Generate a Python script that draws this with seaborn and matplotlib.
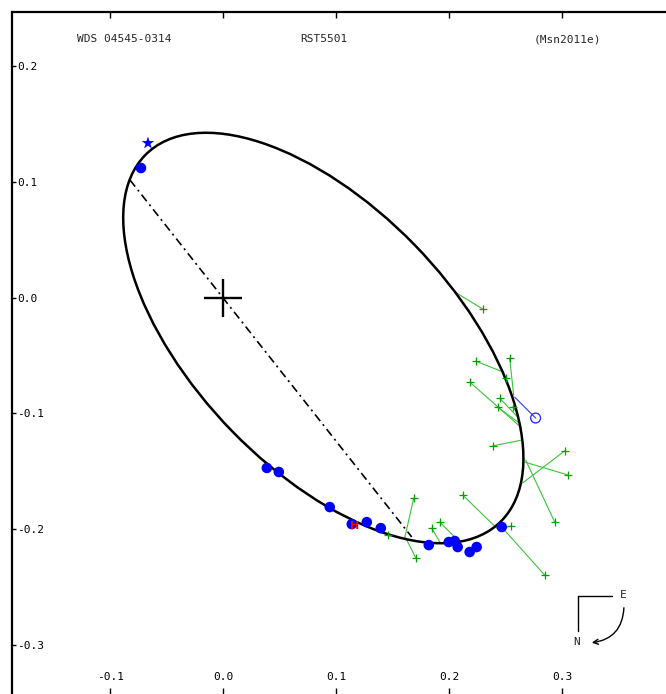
import numpy as np
import matplotlib
matplotlib.use("Agg")
import matplotlib.pyplot as plt
from matplotlib.patches import Ellipse
import seaborn as sns

# ---------------- data ----------------
wds_id = "WDS 04545-0314"
disc_id = "RST5501"
orbit_ref = "(Msn2011e)"

x_ticks = [-0.1, 0.0, 0.1, 0.2, 0.3, 0.4]
x_tick_labels = ["-0.1", "0.0", "0.1", "0.2", "0.3", "0.4"]
y_ticks = [-0.3, -0.2, -0.1, 0.0, 0.1, 0.2]
y_tick_labels = ["-0.3", "-0.2", "-0.1", "0.0", "0.1", "0.2"]

# apparent orbit ellipse
orbit_center = (0.0885, -0.0349)
orbit_semi_major = 0.2232
orbit_semi_minor = 0.1140
orbit_angle_deg = -45.0

# line of nodes
node_x = [-0.0827, 0.1668]
node_y = [0.1015, -0.2067]

# interferometric measures (blue filled dots)
speckle_x = [-0.0730, 0.0385, 0.0491, 0.0942, 0.1137, 0.1270, 0.1394,
             0.1819, 0.1996, 0.2049, 0.2075, 0.2181, 0.2243, 0.2465]
speckle_y = [0.1119, -0.1471, -0.1506, -0.1809, -0.1956, -0.1939, -0.1991,
             -0.2137, -0.2111, -0.2102, -0.2154, -0.2197, -0.2154, -0.1981]

# first measure (blue star)
first_x = [-0.0668]
first_y = [0.1334]

# Hipparcos measure (red H)
hip_x = [0.1160]
hip_y = [-0.1975]

# micrometer measures (green +) and their predicted positions
visual_x = [0.2297, 0.2235, 0.2535, 0.2181, 0.2447, 0.2429, 0.2562, 0.2500,
            0.2385, 0.3022, 0.3049, 0.2934, 0.2119, 0.2544, 0.2845, 0.1686,
            0.1704, 0.1916, 0.1845, 0.1456]
visual_y = [-0.0099, -0.0549, -0.0523, -0.0729, -0.0869, -0.0946, -0.0946, -0.0696,
            -0.1281, -0.1324, -0.1531, -0.1938, -0.1705, -0.1972, -0.2396, -0.1730,
            -0.2248, -0.1938, -0.1990, -0.2050]
visual_pred_x = [0.2066, 0.2482, 0.2571, 0.2642, 0.2615, 0.2633, 0.2606, 0.2518,
                 0.2650, 0.2650, 0.2668, 0.2677, 0.2420, 0.2491, 0.2473, 0.1606,
                 0.1615, 0.2049, 0.1916, 0.1473]
visual_pred_y = [0.0039, -0.0644, -0.0843, -0.1126, -0.1040, -0.1092, -0.0998, -0.0730,
                 -0.1229, -0.1601, -0.1420, -0.1403, -0.1990, -0.1990, -0.1990, -0.2076,
                 -0.2076, -0.2068, -0.2111, -0.2059]

# single-aperture measure (blue open circle) and predicted position
open_x = [0.2765]
open_y = [-0.1040]
open_pred_x = [0.2580]
open_pred_y = [-0.0860]

# ---------------- styling ----------------
sns.set_style("white")
plt.rcParams["font.family"] = ["DejaVu Sans Mono", "DejaVu Sans"]
plt.rcParams["axes.unicode_minus"] = False

W, H = 666, 694
fig = plt.figure(figsize=(W / 100, H / 100), dpi=100)
ax = fig.add_axes([12 / W, 0, 688 / W, 682 / H])
ax.set_xlim(-0.1872, 0.4221)
ax.set_ylim(-0.3423, 0.2466)

for side in ["right", "bottom"]:
    ax.spines[side].set_visible(False)
for side in ["left", "top"]:
    ax.spines[side].set_visible(True)
    ax.spines[side].set_color("black")
    ax.spines[side].set_linewidth(1.6)

ax.set_xticks(x_ticks)
ax.set_xticklabels(x_tick_labels)
ax.set_yticks(y_ticks)
ax.set_yticklabels(y_tick_labels)
ax.tick_params(axis="x", direction="in", top=True, bottom=True, length=4.5,
               width=1, color="black", labelsize=8, pad=-16, labelcolor="black")
ax.tick_params(axis="y", direction="in", left=True, right=False, length=3,
               width=1, color="black", labelsize=8, pad=-4, labelcolor="black")
for lab in ax.get_yticklabels():
    lab.set_horizontalalignment("left")
ax.grid(False)

# residual lines (green) and blue open-circle residual
for xo, yo, xp, yp in zip(visual_x, visual_y, visual_pred_x, visual_pred_y):
    ax.plot([xo, xp], [yo, yp], color="#3cc23c", lw=0.8, zorder=2)
for xo, yo, xp, yp in zip(open_x, open_y, open_pred_x, open_pred_y):
    ax.plot([xo, xp], [yo, yp], color="#3333ff", lw=0.8, zorder=2)

# orbit
ell = Ellipse(orbit_center, 2 * orbit_semi_major, 2 * orbit_semi_minor,
              angle=orbit_angle_deg, fill=False, edgecolor="black", lw=1.8, zorder=3)
ax.add_patch(ell)

# line of nodes
ax.plot(node_x, node_y, color="black", lw=1.2, dashes=[5, 2.5, 1.2, 2.5], zorder=3)

# primary
ax.plot([0.0], [0.0], marker="+", color="black", markersize=27, mew=1.7, zorder=4)

# measures
sns.scatterplot(x=visual_x, y=visual_y, marker="+", color="#00a000", s=40,
                linewidth=0.9, ax=ax, zorder=5, legend=False)
sns.scatterplot(x=speckle_x, y=speckle_y, marker="o", color="#0000ff", s=58,
                edgecolor="none", ax=ax, zorder=5, legend=False)
sns.scatterplot(x=first_x, y=first_y, marker="*", color="#0000ff", s=90,
                edgecolor="none", ax=ax, zorder=5, legend=False)
sns.scatterplot(x=open_x, y=open_y, marker="o", facecolor="none", edgecolor="#3333ff",
                s=50, linewidth=1.0, ax=ax, zorder=5, legend=False)
for hx, hy in zip(hip_x, hip_y):
    ax.text(hx, hy, "H", color="red", fontsize=8, fontweight="bold",
            family="DejaVu Sans", ha="center", va="center", zorder=7)

# header
fig.text(124 / W, 1 - 39 / H, wds_id, fontsize=8, ha="center", va="center")
fig.text(324 / W, 1 - 39 / H, disc_id, fontsize=8, ha="center", va="center")
fig.text(567 / W, 1 - 39 / H, orbit_ref, fontsize=8, ha="center", va="center")

# compass
def fp(px, py):
    return (px / W, 1 - py / H)

fig.add_artist(plt.Line2D([578 / W, 612 / W], [1 - 596 / H, 1 - 596 / H],
                          color="black", lw=1.0, transform=fig.transFigure))
fig.add_artist(plt.Line2D([578 / W, 578 / W], [1 - 596 / H, 1 - 631 / H],
                          color="black", lw=1.0, transform=fig.transFigure))
fig.text(623 / W, 1 - 595 / H, "E", fontsize=8, ha="center", va="center")
fig.text(577 / W, 1 - 642 / H, "N", fontsize=8, ha="center", va="center")
ax.annotate("", xy=fp(589, 643), xytext=fp(624, 605),
            xycoords="figure fraction", textcoords="figure fraction",
            arrowprops=dict(arrowstyle="->", color="black", lw=1.0,
                            connectionstyle="arc3,rad=-0.45", mutation_scale=9))

fig.savefig("out.png", dpi=100)
